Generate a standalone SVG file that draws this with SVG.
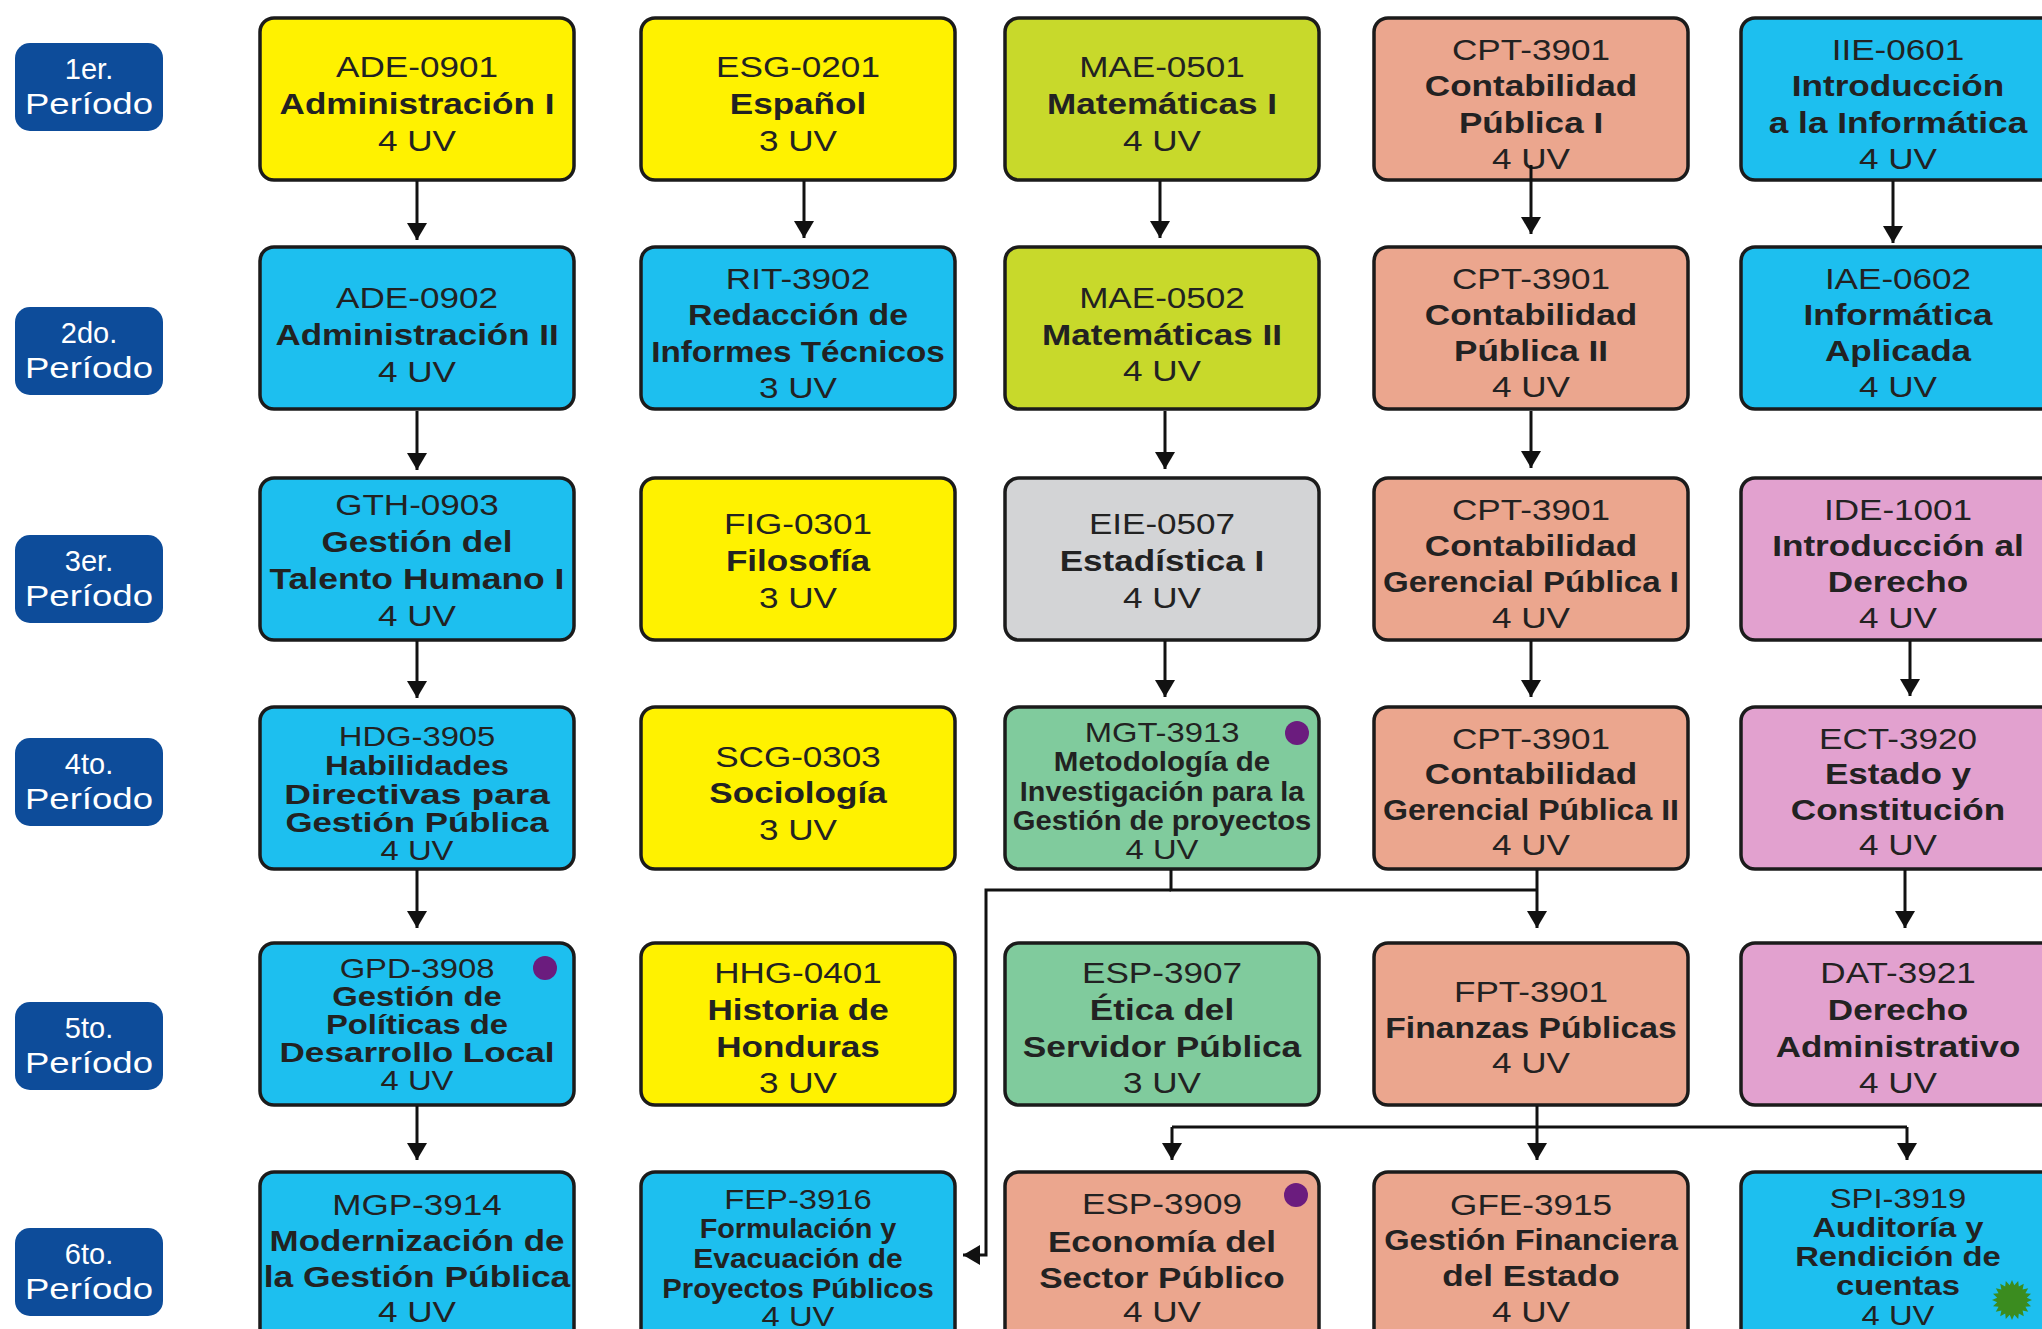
<svg xmlns="http://www.w3.org/2000/svg" width="2042" height="1329" viewBox="0 0 2042 1329">
<defs>
<style>
.box{stroke:#1b1b1b;stroke-width:3.5}
.y{fill:#FFF200}.cy{fill:#1DBFEF}.l{fill:#C8D92B}.s{fill:#EBA68E}.g{fill:#D3D4D6}.gr{fill:#80CB9D}.p{fill:#E2A1CF}
text{font-family:"Liberation Sans",Arial,sans-serif;fill:#222;text-anchor:middle}
.t{font-size:30px}.t5{font-size:28px}.b{font-weight:bold}
.bd{fill:#0D4C9A}.bt{fill:#ffffff;font-size:29px}
.cn{fill:none;stroke:#111;stroke-width:3}
.dot{fill:#6B1C7E}
</style>
<marker id="ah" markerUnits="userSpaceOnUse" markerWidth="18" markerHeight="20" refX="17" refY="10" orient="auto">
<path d="M0,0 L17,10 L0,20 z" fill="#111"/>
</marker>
</defs>
<rect x="0" y="0" width="2042" height="1329" fill="#ffffff"/>

<g id="periods">
<g id="p1"><rect class="bd" x="15" y="43" width="148" height="88" rx="15"/><text class="bt" x="89" y="79">1er.</text><text class="bt" x="89" y="114" textLength="128" lengthAdjust="spacingAndGlyphs">Período</text></g>
<g id="p2"><rect class="bd" x="15" y="307" width="148" height="88" rx="15"/><text class="bt" x="89" y="343">2do.</text><text class="bt" x="89" y="378" textLength="128" lengthAdjust="spacingAndGlyphs">Período</text></g>
<g id="p3"><rect class="bd" x="15" y="535" width="148" height="88" rx="15"/><text class="bt" x="89" y="571">3er.</text><text class="bt" x="89" y="606" textLength="128" lengthAdjust="spacingAndGlyphs">Período</text></g>
<g id="p4"><rect class="bd" x="15" y="738" width="148" height="88" rx="15"/><text class="bt" x="89" y="774">4to.</text><text class="bt" x="89" y="809" textLength="128" lengthAdjust="spacingAndGlyphs">Período</text></g>
<g id="p5"><rect class="bd" x="15" y="1002" width="148" height="88" rx="15"/><text class="bt" x="89" y="1038">5to.</text><text class="bt" x="89" y="1073" textLength="128" lengthAdjust="spacingAndGlyphs">Período</text></g>
<g id="p6"><rect class="bd" x="15" y="1228" width="148" height="88" rx="15"/><text class="bt" x="89" y="1264">6to.</text><text class="bt" x="89" y="1299" textLength="128" lengthAdjust="spacingAndGlyphs">Período</text></g>
</g>

<!-- Row 1 -->
<g id="ADE-0901"><rect class="box y" x="260" y="18" width="314" height="162" rx="14"/>
<g transform="translate(417 0) scale(1.17 1)"><text class="t" y="77">ADE-0901</text><text class="t b" y="114">Administración I</text><text class="t" y="151">4 UV</text></g></g>
<g id="ESG-0201"><rect class="box y" x="641" y="18" width="314" height="162" rx="14"/>
<g transform="translate(798 0) scale(1.17 1)"><text class="t" y="77">ESG-0201</text><text class="t b" y="114">Español</text><text class="t" y="151">3 UV</text></g></g>
<g id="MAE-0501"><rect class="box l" x="1005" y="18" width="314" height="162" rx="14"/>
<g transform="translate(1162 0) scale(1.17 1)"><text class="t" y="77">MAE-0501</text><text class="t b" y="114">Matemáticas I</text><text class="t" y="151">4 UV</text></g></g>
<g id="CPT-3901-a"><rect class="box s" x="1374" y="18" width="314" height="162" rx="14"/>
<g transform="translate(1531 0) scale(1.17 1)"><text class="t" y="60">CPT-3901</text><text class="t b" y="96">Contabilidad</text><text class="t b" y="133">Pública I</text><text class="t" y="169">4 UV</text></g></g>
<g id="IIE-0601"><rect class="box cy" x="1741" y="18" width="316" height="162" rx="14"/>
<g transform="translate(1898 0) scale(1.17 1)"><text class="t" y="60">IIE-0601</text><text class="t b" y="96">Introducción</text><text class="t b" y="133" textLength="221" lengthAdjust="spacingAndGlyphs">a la Informática</text><text class="t" y="169">4 UV</text></g></g>

<!-- Row 2 -->
<g id="ADE-0902"><rect class="box cy" x="260" y="247" width="314" height="162" rx="14"/>
<g transform="translate(417 0) scale(1.17 1)"><text class="t" y="308">ADE-0902</text><text class="t b" y="345" textLength="242" lengthAdjust="spacingAndGlyphs">Administración II</text><text class="t" y="382">4 UV</text></g></g>
<g id="RIT-3902"><rect class="box cy" x="641" y="247" width="314" height="162" rx="14"/>
<g transform="translate(798 0) scale(1.17 1)"><text class="t" y="289">RIT-3902</text><text class="t b" y="325" textLength="188" lengthAdjust="spacingAndGlyphs">Redacción de</text><text class="t b" y="362" textLength="251" lengthAdjust="spacingAndGlyphs">Informes Técnicos</text><text class="t" y="398">3 UV</text></g></g>
<g id="MAE-0502"><rect class="box l" x="1005" y="247" width="314" height="162" rx="14"/>
<g transform="translate(1162 0) scale(1.17 1)"><text class="t" y="308">MAE-0502</text><text class="t b" y="345">Matemáticas II</text><text class="t" y="381">4 UV</text></g></g>
<g id="CPT-3901-b"><rect class="box s" x="1374" y="247" width="314" height="162" rx="14"/>
<g transform="translate(1531 0) scale(1.17 1)"><text class="t" y="289">CPT-3901</text><text class="t b" y="325">Contabilidad</text><text class="t b" y="361">Pública II</text><text class="t" y="397">4 UV</text></g></g>
<g id="IAE-0602"><rect class="box cy" x="1741" y="247" width="316" height="162" rx="14"/>
<g transform="translate(1898 0) scale(1.17 1)"><text class="t" y="289">IAE-0602</text><text class="t b" y="325">Informática</text><text class="t b" y="361">Aplicada</text><text class="t" y="397">4 UV</text></g></g>

<!-- Row 3 -->
<g id="GTH-0903"><rect class="box cy" x="260" y="478" width="314" height="162" rx="14"/>
<g transform="translate(417 0) scale(1.17 1)"><text class="t" y="515">GTH-0903</text><text class="t b" y="552">Gestión del</text><text class="t b" y="589" textLength="252" lengthAdjust="spacingAndGlyphs">Talento Humano I</text><text class="t" y="626">4 UV</text></g></g>
<g id="FIG-0301"><rect class="box y" x="641" y="478" width="314" height="162" rx="14"/>
<g transform="translate(798 0) scale(1.17 1)"><text class="t" y="534">FIG-0301</text><text class="t b" y="571">Filosofía</text><text class="t" y="608">3 UV</text></g></g>
<g id="EIE-0507"><rect class="box g" x="1005" y="478" width="314" height="162" rx="14"/>
<g transform="translate(1162 0) scale(1.17 1)"><text class="t" y="534">EIE-0507</text><text class="t b" y="571">Estadística I</text><text class="t" y="608">4 UV</text></g></g>
<g id="CPT-3901-c"><rect class="box s" x="1374" y="478" width="314" height="162" rx="14"/>
<g transform="translate(1531 0) scale(1.17 1)"><text class="t" y="520">CPT-3901</text><text class="t b" y="556">Contabilidad</text><text class="t b" y="592" textLength="253" lengthAdjust="spacingAndGlyphs">Gerencial Pública I</text><text class="t" y="628">4 UV</text></g></g>
<g id="IDE-1001"><rect class="box p" x="1741" y="478" width="316" height="162" rx="14"/>
<g transform="translate(1898 0) scale(1.17 1)"><text class="t" y="520">IDE-1001</text><text class="t b" y="556" textLength="215" lengthAdjust="spacingAndGlyphs">Introducción al</text><text class="t b" y="592">Derecho</text><text class="t" y="628">4 UV</text></g></g>

<!-- Row 4 -->
<g id="HDG-3905"><rect class="box cy" x="260" y="707" width="314" height="162" rx="14"/>
<g transform="translate(417 0) scale(1.17 1)"><text class="t5" y="746">HDG-3905</text><text class="t5 b" y="775">Habilidades</text><text class="t5 b" y="804" textLength="227" lengthAdjust="spacingAndGlyphs">Directivas para</text><text class="t5 b" y="832" textLength="225" lengthAdjust="spacingAndGlyphs">Gestión Pública</text><text class="t5" y="860">4 UV</text></g></g>
<g id="SCG-0303"><rect class="box y" x="641" y="707" width="314" height="162" rx="14"/>
<g transform="translate(798 0) scale(1.17 1)"><text class="t" y="767">SCG-0303</text><text class="t b" y="803">Sociología</text><text class="t" y="840">3 UV</text></g></g>
<g id="MGT-3913"><rect class="box gr" x="1005" y="707" width="314" height="162" rx="14"/>
<g transform="translate(1162 0) scale(1.17 1)"><text class="t5" y="742">MGT-3913</text><text class="t5 b" y="771" textLength="185" lengthAdjust="spacingAndGlyphs">Metodología de</text><text class="t5 b" y="801" textLength="243" lengthAdjust="spacingAndGlyphs">Investigación para la</text><text class="t5 b" y="830" textLength="255" lengthAdjust="spacingAndGlyphs">Gestión de proyectos</text><text class="t5" y="859">4 UV</text></g>
<circle class="dot" cx="1297" cy="733" r="12"/></g>
<g id="CPT-3901-d"><rect class="box s" x="1374" y="707" width="314" height="162" rx="14"/>
<g transform="translate(1531 0) scale(1.17 1)"><text class="t" y="749">CPT-3901</text><text class="t b" y="784">Contabilidad</text><text class="t b" y="820" textLength="253" lengthAdjust="spacingAndGlyphs">Gerencial Pública II</text><text class="t" y="855">4 UV</text></g></g>
<g id="ECT-3920"><rect class="box p" x="1741" y="707" width="316" height="162" rx="14"/>
<g transform="translate(1898 0) scale(1.17 1)"><text class="t" y="749">ECT-3920</text><text class="t b" y="784">Estado y</text><text class="t b" y="820">Constitución</text><text class="t" y="855">4 UV</text></g></g>

<!-- Row 5 -->
<g id="GPD-3908"><rect class="box cy" x="260" y="943" width="314" height="162" rx="14"/>
<g transform="translate(417 0) scale(1.17 1)"><text class="t5" y="978">GPD-3908</text><text class="t5 b" y="1006">Gestión de</text><text class="t5 b" y="1034">Políticas de</text><text class="t5 b" y="1062" textLength="235" lengthAdjust="spacingAndGlyphs">Desarrollo Local</text><text class="t5" y="1090">4 UV</text></g>
<circle class="dot" cx="545" cy="968" r="12"/></g>
<g id="HHG-0401"><rect class="box y" x="641" y="943" width="314" height="162" rx="14"/>
<g transform="translate(798 0) scale(1.17 1)"><text class="t" y="983">HHG-0401</text><text class="t b" y="1020">Historia de</text><text class="t b" y="1057">Honduras</text><text class="t" y="1093">3 UV</text></g></g>
<g id="ESP-3907"><rect class="box gr" x="1005" y="943" width="314" height="162" rx="14"/>
<g transform="translate(1162 0) scale(1.17 1)"><text class="t" y="983">ESP-3907</text><text class="t b" y="1020">Ética del</text><text class="t b" y="1057" textLength="238" lengthAdjust="spacingAndGlyphs">Servidor Pública</text><text class="t" y="1093">3 UV</text></g></g>
<g id="FPT-3901"><rect class="box s" x="1374" y="943" width="314" height="162" rx="14"/>
<g transform="translate(1531 0) scale(1.17 1)"><text class="t" y="1002">FPT-3901</text><text class="t b" y="1038" textLength="249" lengthAdjust="spacingAndGlyphs">Finanzas Públicas</text><text class="t" y="1073">4 UV</text></g></g>
<g id="DAT-3921"><rect class="box p" x="1741" y="943" width="316" height="162" rx="14"/>
<g transform="translate(1898 0) scale(1.17 1)"><text class="t" y="983">DAT-3921</text><text class="t b" y="1020">Derecho</text><text class="t b" y="1057" textLength="209" lengthAdjust="spacingAndGlyphs">Administrativo</text><text class="t" y="1093">4 UV</text></g></g>

<!-- Row 6 -->
<g id="MGP-3914"><rect class="box cy" x="260" y="1172" width="314" height="172" rx="14"/>
<g transform="translate(417 0) scale(1.17 1)"><text class="t" y="1215">MGP-3914</text><text class="t b" y="1251" textLength="252" lengthAdjust="spacingAndGlyphs">Modernización de</text><text class="t b" y="1287" textLength="262" lengthAdjust="spacingAndGlyphs">la Gestión Pública</text><text class="t" y="1322">4 UV</text></g></g>
<g id="FEP-3916"><rect class="box cy" x="641" y="1172" width="314" height="172" rx="14"/>
<g transform="translate(798 0) scale(1.17 1)"><text class="t5" y="1209">FEP-3916</text><text class="t5 b" y="1238" textLength="168" lengthAdjust="spacingAndGlyphs">Formulación y</text><text class="t5 b" y="1268" textLength="179" lengthAdjust="spacingAndGlyphs">Evacuación de</text><text class="t5 b" y="1298" textLength="232" lengthAdjust="spacingAndGlyphs">Proyectos Públicos</text><text class="t5" y="1326">4 UV</text></g></g>
<g id="ESP-3909"><rect class="box s" x="1005" y="1172" width="314" height="172" rx="14"/>
<g transform="translate(1162 0) scale(1.17 1)"><text class="t" y="1214">ESP-3909</text><text class="t b" y="1252">Economía del</text><text class="t b" y="1288">Sector Público</text><text class="t" y="1322">4 UV</text></g>
<circle class="dot" cx="1296" cy="1195" r="12"/></g>
<g id="GFE-3915"><rect class="box s" x="1374" y="1172" width="314" height="172" rx="14"/>
<g transform="translate(1531 0) scale(1.17 1)"><text class="t" y="1215">GFE-3915</text><text class="t b" y="1250" textLength="251" lengthAdjust="spacingAndGlyphs">Gestión Financiera</text><text class="t b" y="1286">del Estado</text><text class="t" y="1322">4 UV</text></g></g>
<g id="SPI-3919"><rect class="box cy" x="1741" y="1172" width="316" height="172" rx="14"/>
<g transform="translate(1898 0) scale(1.17 1)"><text class="t5" y="1208">SPI-3919</text><text class="t5 b" y="1237">Auditoría y</text><text class="t5 b" y="1266">Rendición de</text><text class="t5 b" y="1295">cuentas</text><text class="t5" y="1325">4 UV</text></g>
<polygon transform="translate(2012 1300)" fill="#3B8C1F" points="20,0 14.8,2.3 19,6.2 13.4,6.8 16.2,11.8 10.6,10.6 11.8,16.2 6.8,13.4 6.2,19 2.3,14.8 0,20 -2.3,14.8 -6.2,19 -6.8,13.4 -11.8,16.2 -10.6,10.6 -16.2,11.8 -13.4,6.8 -19,6.2 -14.8,2.3 -20,0 -14.8,-2.3 -19,-6.2 -13.4,-6.8 -16.2,-11.8 -10.6,-10.6 -11.8,-16.2 -6.8,-13.4 -6.2,-19 -2.3,-14.8 0,-20 2.3,-14.8 6.2,-19 6.8,-13.4 11.8,-16.2 10.6,-10.6 16.2,-11.8 13.4,-6.8 19,-6.2 14.8,-2.3"/></g>

<g id="connectors">
<path class="cn" marker-end="url(#ah)" d="M417,181 V240"/>
<path class="cn" marker-end="url(#ah)" d="M417,411 V470"/>
<path class="cn" marker-end="url(#ah)" d="M417,641 V698"/>
<path class="cn" marker-end="url(#ah)" d="M417,870 V928"/>
<path class="cn" marker-end="url(#ah)" d="M417,1106 V1160"/>
<path class="cn" marker-end="url(#ah)" d="M804,181 V238"/>
<path class="cn" marker-end="url(#ah)" d="M1160,181 V238"/>
<path class="cn" marker-end="url(#ah)" d="M1165,411 V469"/>
<path class="cn" marker-end="url(#ah)" d="M1165,641 V697"/>
<path class="cn" marker-end="url(#ah)" d="M1531,165 V234"/>
<path class="cn" marker-end="url(#ah)" d="M1531,411 V468"/>
<path class="cn" marker-end="url(#ah)" d="M1531,641 V697"/>
<path class="cn" marker-end="url(#ah)" d="M1893,181 V243"/>
<path class="cn" marker-end="url(#ah)" d="M1910,641 V696"/>
<path class="cn" marker-end="url(#ah)" d="M1905,870 V928"/>
<path class="cn" d="M1171,870 V890 H1537"/>
<path class="cn" marker-end="url(#ah)" d="M1537,870 V928"/>
<path class="cn" marker-end="url(#ah)" d="M1171,890 H986 V1255 H963"/>
<path class="cn" marker-end="url(#ah)" d="M1537,1106 V1160"/>
<path class="cn" d="M1172,1127 H1907"/>
<path class="cn" marker-end="url(#ah)" d="M1172,1127 V1160"/>
<path class="cn" marker-end="url(#ah)" d="M1907,1127 V1160"/>
</g>
</svg>
